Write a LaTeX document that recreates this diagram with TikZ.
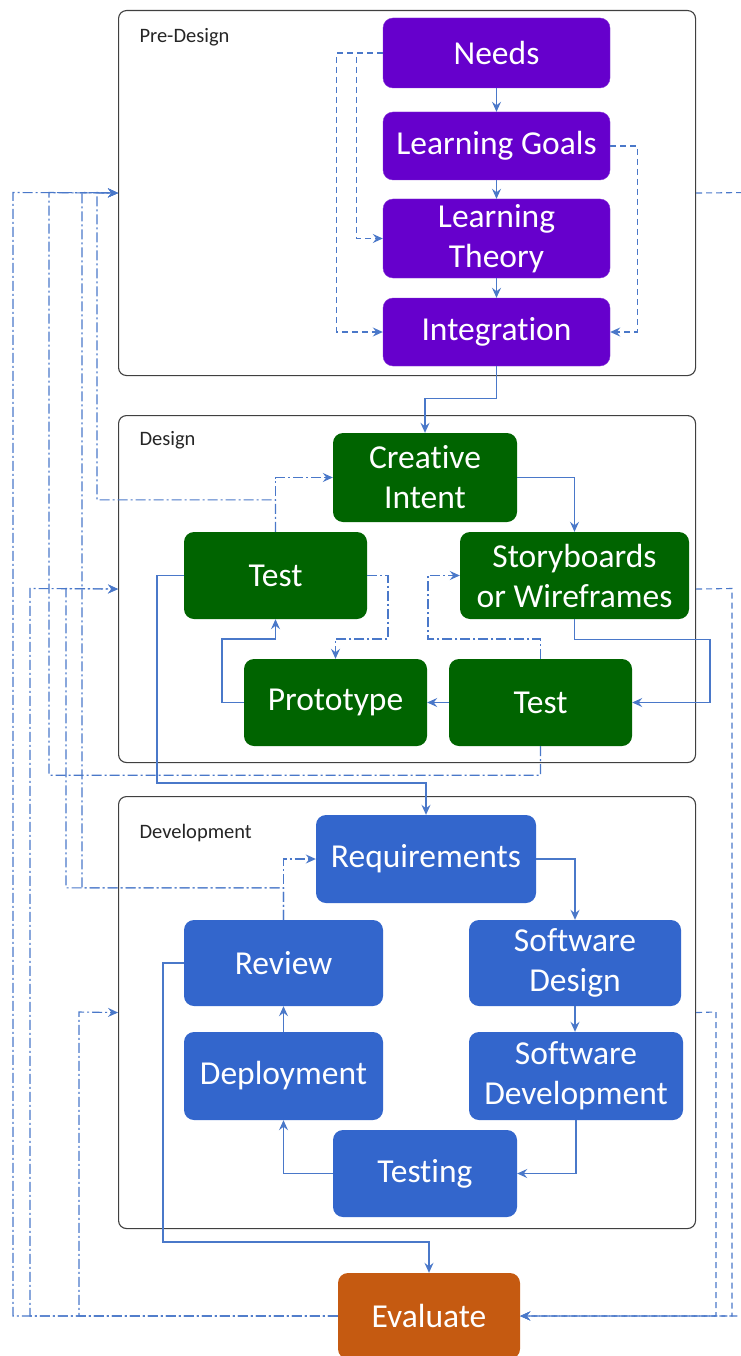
\documentclass[tikz,border=0pt]{standalone}
\usepackage{fontspec}
\setmainfont{Carlito}[RawFeature={-liga;-clig;-calt;-dlig}]
\usetikzlibrary{arrows.meta}
\definecolor{lnk}{HTML}{4A78C9}
\definecolor{purp}{HTML}{6600CC}
\definecolor{grn}{HTML}{006400}
\definecolor{blu}{HTML}{3366CC}
\definecolor{org}{HTML}{C55A11}
\tikzset{
  box/.style={rounded corners=10pt, text=white, inner sep=2pt, align=center,
    font=\fontsize{33.5}{40}\selectfont},
  pbox/.style={box, fill=purp, draw=purp!80!white},
  gbox/.style={box, fill=grn},
  bbox/.style={box, fill=blu},
  obox/.style={box, fill=org},
  container/.style={draw=black!75, line width=1.1pt, rounded corners=8pt, fill=white, anchor=north west},
  ctitle/.style={anchor=west, font=\fontsize{20.5}{24}\selectfont, text=black!85},
  sol/.style={draw=lnk, line width=1.1pt, -{Stealth[length=10pt,width=9pt,inset=3.5pt]}},
  dsh/.style={draw=lnk, line width=1.1pt, dash pattern=on 6pt off 4pt, -{Stealth[length=10pt,width=9pt,inset=3.5pt]}},
  ddot/.style={draw=lnk, line width=1.1pt, dash pattern=on 10pt off 3pt on 2pt off 3pt, -{Stealth[length=10pt,width=9pt,inset=3.5pt]}},
}
\begin{document}
\begin{tikzpicture}[x=1pt,y=-1pt]
\useasboundingbox (0,0) rectangle (740,1356);
% containers
\node[container, minimum width=577pt, minimum height=365pt] (pre) at (118,10) {};
\node[container, minimum width=577pt, minimum height=347pt] (des) at (118,415) {};
\node[container, minimum width=577pt, minimum height=432pt] (dev) at (118,796) {};
\node[ctitle] (tpre) at (136,37) {Pre-Design};
\node[ctitle] (tdes) at (136,440) {Design};
\node[ctitle] (tdev) at (136,833) {Development};
% nodes
\node[pbox, minimum width=227pt, minimum height=70pt] (needs) at (496.5,53) {Needs};
\node[pbox, minimum width=227pt, minimum height=68pt] (goals) at (496.5,146) {Learning Goals};
\node[pbox, minimum width=227pt, minimum height=79pt] (theory) at (496.5,238.5) {Learning\\Theory};
\node[pbox, minimum width=227pt, minimum height=68pt] (integ) at (496.5,332) {Integra{}tion};
\node[gbox, minimum width=184pt, minimum height=89pt] (creative) at (425,477.5) {Crea{}tive\\Intent};
\node[gbox, minimum width=183pt, minimum height=87pt] (testL) at (275.5,575.5) {Test};
\node[gbox, minimum width=229pt, minimum height=87pt] (story) at (574.5,575.5) {Storyboards\\or Wireframes};
\node[gbox, minimum width=183pt, minimum height=87pt] (proto) at (335.5,702.5) {Prototype};
\node[gbox, minimum width=183pt, minimum height=87pt] (testR) at (540.5,702.5) {Test};
\node[bbox, minimum width=220pt, minimum height=88pt] (req) at (426,859) {Requirements};
\node[bbox, minimum width=199pt, minimum height=86pt] (review) at (283.5,963) {Review};
\node[bbox, minimum width=212pt, minimum height=86pt] (swd) at (575,963) {Software\\Design};
\node[bbox, minimum width=199pt, minimum height=88pt] (deploy) at (283.5,1076) {Deployment};
\node[bbox, minimum width=214pt, minimum height=88pt] (swdev) at (576,1076) {Software\\Development};
\node[bbox, minimum width=184pt, minimum height=87pt] (testing) at (425,1173.5) {Testing};
\node[obox, minimum width=182pt, minimum height=86pt] (eval) at (429,1316) {Evaluate};
% pre-design connectors
\draw[sol] (needs) -- (goals);
\draw[sol] (goals) -- (theory);
\draw[sol] (theory) -- (integ);
\draw[dsh] (needs.west) -- ++(-46,0) |- (integ.west);
\draw[dsh] (needs.west) -- ++(-26,0) |- (theory.west);
\draw[dsh] (goals.east) -- ++(27,0) |- (integ.east);
% right side to evaluate
\draw[dsh] (pre.east) -- (750,192.5) |- (eval.east);
\draw[dsh] (des.east) -- (732,588.5) |- (eval.east);
\draw[dsh] (dev.east) -- (716,1012) |- (eval.east);
% left side from evaluate
\draw[ddot] (eval.west) -| (13,192.5) -- (pre.west);
\draw[ddot] (eval.west) -| (30,588.5) -- (des.west);
\draw[ddot] (eval.west) -| (79,1012) -- (dev.west);
% design dash-dot
\draw[ddot] (testL.north) |- (creative.west);
\draw[ddot] (testL.north) -- ++(0,-32) -| (97,192.5) -- (pre.west);
\draw[ddot] (testR.south) -- ++(0,29) -| (49,192.5) -- (pre.west);
\draw[ddot] (testL.east) -| (388,639) -| (proto.north);
\draw[ddot] (testR.north) |- (428,639) |- (story.west);
% development dash-dot
\draw[ddot] (review.north) |- (req.west);
\draw[ddot] (review.north) -- ++(0,-32) -| (66,588.5) -- (des.west);
\draw[ddot] (review.north) -- ++(0,-32) -| (82,192.5) -- (pre.west);
% design solid
\draw[sol] (integ.south) -- ++(0,32) -| (creative.north);
\draw[sol] (creative.east) -| (story.north);
\draw[sol] (story.south) -- ++(0,20) -| (710,702.5) -- (testR.east);
\draw[sol] (testR.west) -- (proto.east);
\draw[sol] (proto.west) -| (222,639) -| (testL.south);
\draw[sol] (testL.west) -| (157,783) -| (req.north);
% development solid
\draw[sol] (req.east) -| (swd.north);
\draw[sol] (swd.south) -- (swd.south |- swdev.north);
\draw[sol] (swdev.south) |- (testing.east);
\draw[sol] (testing.west) -| (deploy.south);
\draw[sol] (deploy) -- (review);
\draw[sol] (review.west) -| (163,1242) -| (eval.north);
\end{tikzpicture}
\end{document}
